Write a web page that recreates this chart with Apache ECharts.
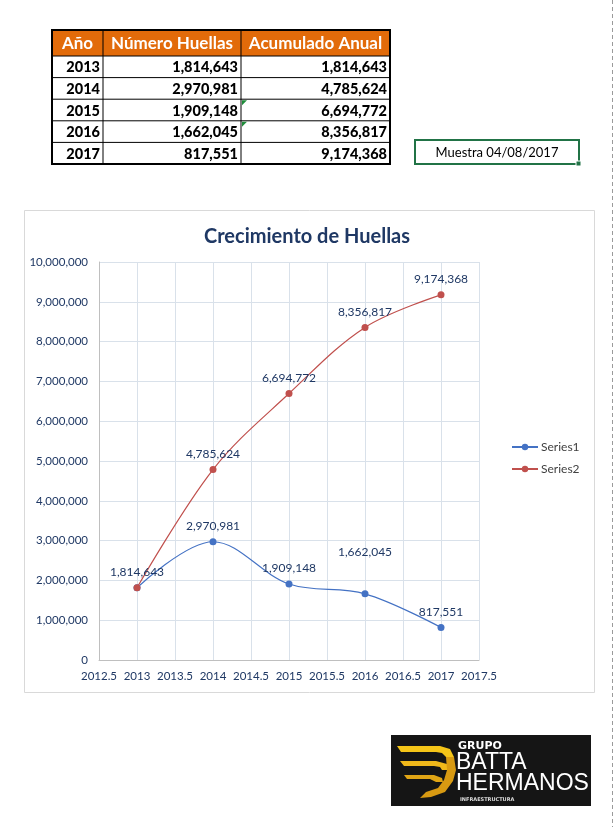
<!DOCTYPE html>
<html><head><meta charset="utf-8">
<script src="https://cdn.jsdelivr.net/npm/echarts@6/dist/echarts.min.js"></script>
<style>html,body{margin:0;padding:0;background:#fff}#c{width:614px;height:827px}</style>
</head><body><div id="c"></div>
<script>
var years = [2013, 2014, 2015, 2016, 2017];
var huellas = [1814643, 2970981, 1909148, 1662045, 817551];
var acumulado = [1814643, 4785624, 6694772, 8356817, 9174368];
var headers = ['Año', 'Número Huellas', 'Acumulado Anual'];
var chartTitle = 'Crecimiento de Huellas';
var seriesNames = ['Series1', 'Series2'];
var noteText = 'Muestra 04/08/2017';

var FONT = 'Lato, "Open Sans", sans-serif';
function fmt(v){ return Number(v).toLocaleString('en-US'); }

var chart = echarts.init(document.getElementById('c'), null, {renderer:'canvas'});

var g = [];
var colX = [52, 103, 241, 390];
var headTop = 30, headH = 26, rowH = 21.6;
g.push({type:'rect', shape:{x:colX[0], y:headTop, width:colX[3]-colX[0], height:headH}, style:{fill:'#E26B0A'}});
for (var c=0;c<3;c++){
  g.push({type:'text', x:(colX[c]+colX[c+1])/2, y:headTop+headH/2+1, style:{text:headers[c], fill:'#fff', font:'bold 17px '+FONT, textAlign:'center', textVerticalAlign:'middle'}});
}
for (var r=0;r<years.length;r++){
  var y0 = headTop+headH+r*rowH;
  var vals = [String(years[r]), fmt(huellas[r]), fmt(acumulado[r])];
  for (var c2=0;c2<3;c2++){
    g.push({type:'text', x:colX[c2+1]-3, y:y0+rowH/2+1, style:{text:vals[c2], fill:'#000', font:'900 14.5px '+FONT, textAlign:'right', textVerticalAlign:'middle'}});
  }
  g.push({type:'line', shape:{x1:colX[0], y1:y0, x2:colX[3], y2:y0}, style:{stroke:'#000', lineWidth:1}});
}
var tBottom = headTop+headH+years.length*rowH;
g.push({type:'rect', shape:{x:colX[0], y:headTop, width:colX[3]-colX[0], height:tBottom-headTop}, style:{fill:'none', stroke:'#000', lineWidth:2}});
for (var c3=1;c3<3;c3++){
  g.push({type:'line', shape:{x1:colX[c3], y1:headTop, x2:colX[c3], y2:tBottom}, style:{stroke:'#000', lineWidth:1}});
}
[2,3].forEach(function(r){
  var yy = headTop+headH+r*rowH+1;
  g.push({type:'polygon', shape:{points:[[colX[2]+1,yy],[colX[2]+6,yy],[colX[2]+1,yy+5]]}, style:{fill:'#1E8C3A'}});
});
// Muestra box
g.push({type:'rect', shape:{x:415, y:140, width:164, height:24}, style:{fill:'#fff', stroke:'#217346', lineWidth:2}});
g.push({type:'rect', shape:{x:576, y:161, width:5, height:5}, style:{fill:'#217346', stroke:'#fff', lineWidth:1}});
g.push({type:'text', x:497, y:153, style:{text:noteText, fill:'#000', font:'13px '+FONT, textAlign:'center', textVerticalAlign:'middle'}});
// chart area border
g.push({type:'rect', z:-10, shape:{x:24.5, y:210.5, width:570, height:482}, style:{fill:'#fff', stroke:'#D9D9D9', lineWidth:1}});
// page break dashed line
g.push({type:'line', shape:{x1:612.5, y1:0, x2:612.5, y2:827}, style:{stroke:'#9a9a9a', lineWidth:1, lineDash:[4,3]}});
// logo
g.push({type:'rect', shape:{x:391, y:735, width:200, height:71}, style:{fill:'#151515'}});
g.push({type:'polygon', shape:{points:[[397,746],[440,746],[450,749],[454,757],[446,757],[442,753],[436,752],[401,752]]}, style:{fill:'#F5C518'}});
g.push({type:'polygon', shape:{points:[[400,761],[436,761],[447,764],[450,770],[442,770],[440,767],[434,766],[404,766]]}, style:{fill:'#F0B81A'}});
g.push({type:'polygon', shape:{points:[[454,757],[456,770],[453,781],[445,792],[431,797],[420,798],[426,792],[438,788],[444,780],[447,770],[446,757]]}, style:{fill:'#D89A12'}});
g.push({type:'polygon', shape:{points:[[404,775],[434,775],[442,778],[443,782],[436,782],[430,779],[407,779]]}, style:{fill:'#E0A515'}});
g.push({type:'text', x:458, y:746, style:{text:'GRUPO', fill:'#fff', font:'bold 11px "DejaVu Sans", sans-serif', textVerticalAlign:'middle'}});
g.push({type:'text', x:456, y:763, style:{text:'BATTA', fill:'#fff', font:'23px "Liberation Sans", sans-serif', textVerticalAlign:'middle'}});
g.push({type:'text', x:456, y:784, style:{text:'HERMANOS', fill:'#fff', font:'23px "Liberation Sans", sans-serif', textVerticalAlign:'middle'}});
g.push({type:'text', x:460, y:800, style:{text:'INFRAESTRUCTURA', fill:'#ddd', font:'bold 5px "DejaVu Sans", sans-serif', textVerticalAlign:'middle'}});

function mkData(arr, labelOpts){
  return years.map(function(yr,i){
    var d = {value:[yr, arr[i]]};
    if (labelOpts && labelOpts[i]) d.label = labelOpts[i];
    return d;
  });
}

var labelStyle = {show:true, position:'top', distance:6, color:'#1F3864', fontFamily:FONT, fontSize:12, formatter:function(p){return fmt(p.value[1]);}};

chart.setOption({
  animation:false,
  textStyle:{fontFamily:FONT},
  title:{text:chartTitle, left:302, top:222, textAlign:'center', textStyle:{color:'#1F3864', fontSize:20, fontWeight:'bold', fontFamily:FONT}},
  legend:{orient:'vertical', left:506, top:436, itemWidth:26, itemHeight:8, itemGap:10,
    textStyle:{color:'#404040', fontSize:12, fontFamily:FONT, padding:[0,0,0,-2]},
    data:seriesNames},
  grid:{left:99, right:135, top:262, bottom:167, containLabel:false},
  xAxis:{type:'value', min:2012.5, max:2017.5, interval:0.5,
    axisLine:{show:true, lineStyle:{color:'#BFBFBF'}}, axisTick:{show:false},
    splitLine:{show:true, lineStyle:{color:'#D9E1EA'}},
    axisLabel:{color:'#1F3864', fontSize:11.5, margin:10, fontFamily:FONT, formatter:function(v){return String(v);}}},
  yAxis:{type:'value', min:0, max:10000000, interval:1000000,
    axisLine:{show:true, lineStyle:{color:'#BFBFBF'}}, axisTick:{show:false},
    splitLine:{show:true, lineStyle:{color:'#D9E1EA'}},
    axisLabel:{color:'#1F3864', fontSize:11.5, margin:11, fontFamily:FONT, formatter:function(v){return fmt(v);}}},
  series:[
    {name:seriesNames[0], type:'line', smooth:0.35, symbol:'circle', symbolSize:7,
      itemStyle:{color:'#4472C4'}, lineStyle:{color:'#4472C4', width:1.2},
      label:labelStyle, data:mkData(huellas, [{show:false},null,null,{offset:[0,-26]},null]), z:3},
    {name:seriesNames[1], type:'line', smooth:0.35, symbol:'circle', symbolSize:7,
      itemStyle:{color:'#C0504D'}, lineStyle:{color:'#C0504D', width:1.2},
      label:labelStyle, data:mkData(acumulado), z:4}
  ],
  graphic:g
});
</script></body></html>
